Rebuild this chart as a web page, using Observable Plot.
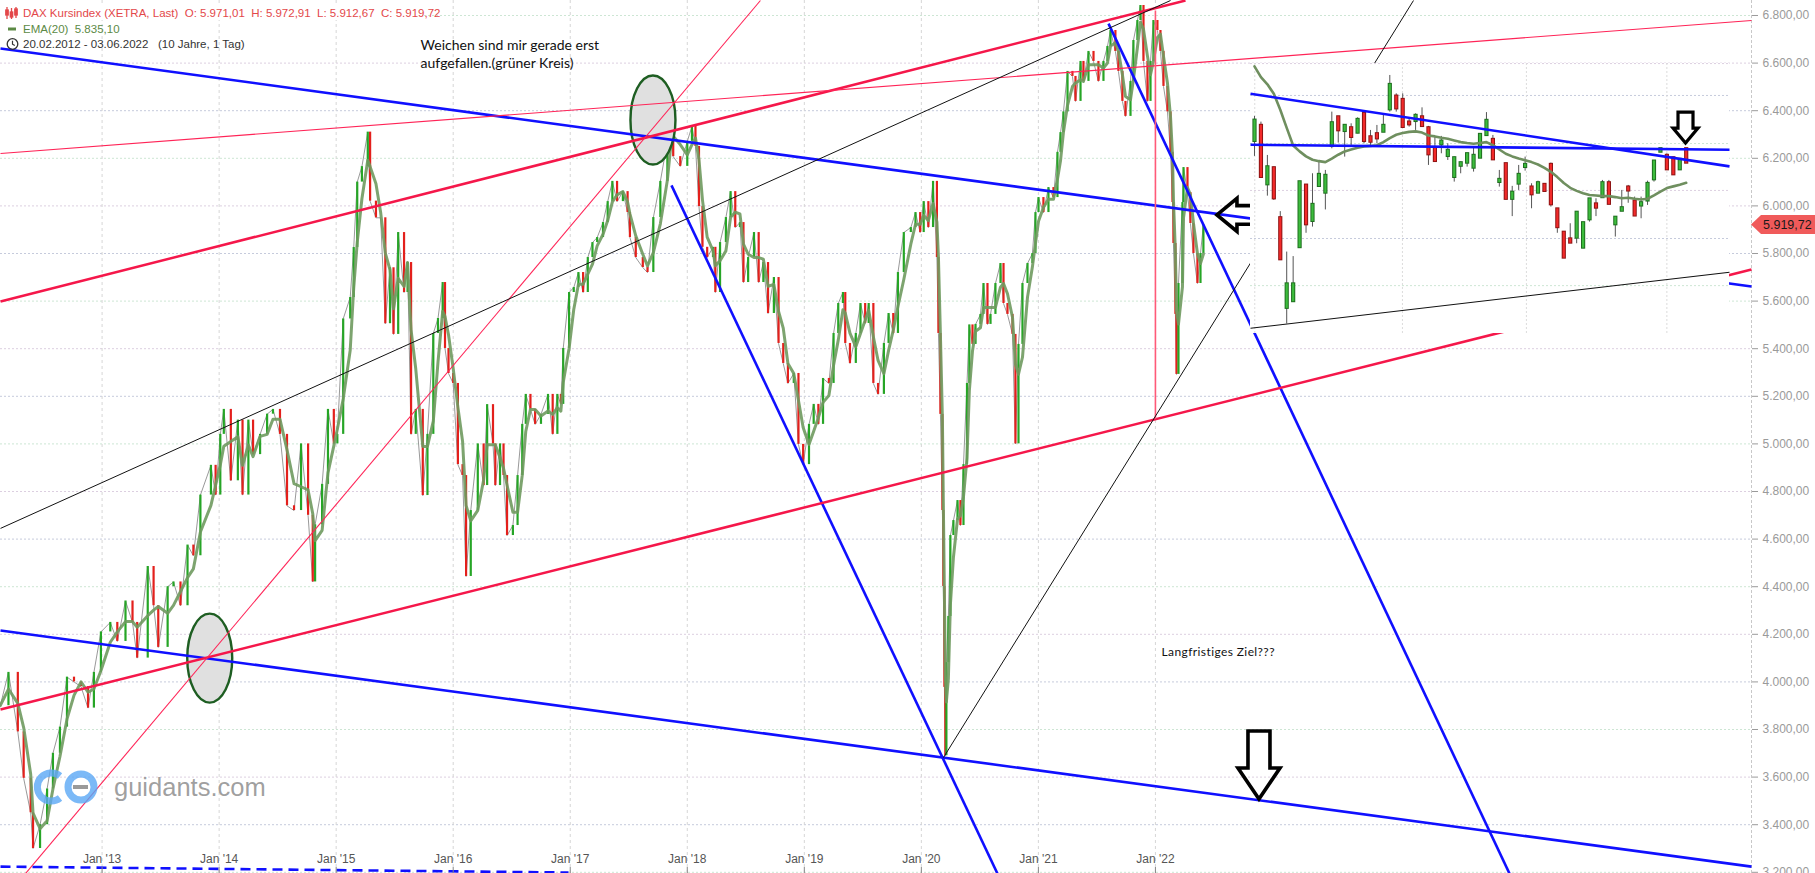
<!DOCTYPE html>
<html><head><meta charset="utf-8">
<script src="https://cdn.jsdelivr.net/npm/d3@7"></script>
<script src="https://cdn.jsdelivr.net/npm/@observablehq/plot@0.6"></script>
<style>
html,body{margin:0;padding:0;background:#fff;}
#wrap{position:relative;width:1815px;height:873px;overflow:hidden;font-family:"Liberation Sans",Arial,sans-serif;}
#wrap>svg{position:absolute;left:0;top:0;}
#inset{position:absolute;left:1250px;top:63px;width:479px;height:270px;background:#fff;}
#inset svg{display:block;}
.lg{position:absolute;left:0;height:14px;line-height:14px;font-size:11.5px;white-space:pre;}
.lg span{position:absolute;left:23px;top:0;}
#wm{position:absolute;left:0;top:740px;}
</style></head><body><div id="wrap"></div>
<script>
// ---------- DATA ----------
const yTicks = [3200,3400,3600,3800,4000,4200,4400,4600,4800,5000,5200,5400,5600,5800,6000,6200,6400,6600,6800];
const xTicks = [2013,2014,2015,2016,2017,2018,2019,2020,2021,2022];
const lastClose = 5919.72;

// main series (decimal year, close)
const mainT = [2012.13,2012.20,2012.28,2012.33,2012.39,2012.41,2012.47,2012.53,2012.58,2012.64,2012.70,2012.76,2012.82,2012.88,2012.93,2012.99,
2013.07,2013.13,2013.20,2013.26,2013.30,2013.39,2013.44,2013.48,2013.56,2013.61,2013.67,2013.73,2013.78,2013.84,2013.93,2013.97,
2014.01,2014.04,2014.10,2014.16,2014.20,2014.25,2014.29,2014.35,2014.41,2014.46,2014.52,2014.58,2014.64,2014.70,2014.76,2014.80,2014.82,2014.88,2014.93,2014.98,
2015.01,2015.06,2015.12,2015.15,2015.18,2015.22,2015.27,2015.29,2015.34,2015.38,2015.42,2015.46,2015.49,2015.53,2015.58,2015.61,2015.64,2015.68,2015.74,2015.78,2015.83,2015.87,2015.91,2015.93,2015.96,
2016.00,2016.04,2016.08,2016.11,2016.15,2016.21,2016.26,2016.29,2016.34,2016.36,2016.40,2016.43,2016.46,2016.51,2016.55,2016.59,2016.62,2016.66,2016.70,2016.75,2016.81,2016.85,2016.89,2016.92,2016.94,2016.99,
2017.03,2017.07,2017.11,2017.15,2017.19,2017.23,2017.28,2017.32,2017.36,2017.40,2017.45,2017.49,2017.51,2017.56,2017.62,2017.66,2017.71,2017.77,2017.83,2017.86,2017.88,2017.94,
2018.00,2018.04,2018.07,2018.10,2018.13,2018.17,2018.22,2018.24,2018.28,2018.33,2018.37,2018.41,2018.45,2018.48,2018.52,2018.57,2018.61,2018.65,2018.69,2018.74,2018.78,2018.82,2018.86,2018.91,2018.95,2018.99,
2019.04,2019.08,2019.12,2019.16,2019.21,2019.25,2019.29,2019.33,2019.35,2019.39,2019.44,2019.48,2019.52,2019.55,2019.59,2019.63,2019.68,2019.72,2019.76,2019.80,2019.85,2019.91,2019.95,2019.99,
2020.02,2020.06,2020.10,2020.133,2020.146,2020.163,2020.180,2020.188,2020.197,2020.205,2020.214,2020.231,2020.248,2020.274,2020.309,2020.334,2020.360,2020.39,2020.41,2020.437,2020.463,2020.505,2020.531,2020.565,2020.591,2020.633,2020.676,2020.702,2020.736,2020.779,2020.804,2020.830,2020.864,2020.907,2020.949,2020.975,
2021.001,2021.043,2021.086,2021.129,2021.163,2021.189,2021.214,2021.249,2021.291,2021.317,2021.360,2021.385,2021.428,2021.471,2021.513,2021.556,2021.590,2021.616,2021.658,2021.684,2021.718,2021.744,2021.787,2021.812,2021.846,2021.872,2021.898,2021.932,2021.958,2021.983,
2022.017,2022.043,2022.069,2022.103,2022.129,2022.146,2022.154,2022.171,2022.180,2022.197,2022.231,2022.240,2022.274,2022.299,2022.325,2022.359,2022.385,2022.410];
const mainClose = [3900,4040,3790,3595,3450,3300,3400,3550,3700,3810,4020,4000,3980,3890,4040,4210,
4250,4170,4340,4250,4100,4485,4320,4145,4400,4420,4320,4575,4530,4785,4910,4785,
5040,5145,4845,5100,4785,5100,4955,5040,5125,5145,5040,4740,4720,5000,4700,4420,4660,4830,5145,5000,
5040,5525,5615,5825,6100,6165,6310,6020,5950,5950,5505,5740,5460,5888,5636,5762,5040,5145,4783,5040,5464,5527,5678,5401,5296,
5254,4913,4867,4443,4720,5000,4825,5165,5000,4825,5000,4867,4615,4657,4867,5082,5208,5145,5082,5124,5208,5040,5208,5166,5401,5636,
5657,5720,5636,5783,5846,5867,5930,6018,6103,6018,6060,5972,5867,5783,5741,5720,5951,6103,6271,6400,6207,6166,
6271,6334,6250,5997,5826,5783,5826,5636,5846,5951,6060,5909,5930,5678,5783,5888,5678,5762,5548,5699,5422,5338,5254,5296,4998,4913,
5082,5166,5082,5275,5254,5464,5590,5636,5422,5338,5464,5590,5506,5590,5254,5208,5422,5548,5464,5720,5888,5909,5972,5888,
6018,5909,6103,5783,5464,5124,4720,4401,3977,3690,4081,4275,4615,4678,4762,4657,4913,5254,5500,5418,5502,5544,5674,5502,5544,5674,5758,5590,5544,5460,5000,5418,5674,5758,5800,5972,
6035,5972,6077,6035,6225,6308,6395,6565,6544,6439,6607,6523,6649,6607,6523,6607,6670,6737,6649,6565,6439,6376,6523,6695,6779,6842,6607,6439,6607,6779,
6737,6649,6502,6395,6225,6014,5842,5544,5292,5674,6014,6161,6056,5926,5800,5674,5800,5920];

// drawn trend lines (start/end in data units)
const trendLines = [
 {t1:2012.132,v1:6661,t2:2027.093,v2:5661,kind:"blue"},
 {t1:2012.132,v1:4216,t2:2027.093,v2:3224,kind:"blue"},
 {t1:2017.865,v1:6086,t2:2020.650,v2:3195,kind:"blue"},
 {t1:2021.599,v1:6766,t2:2025.025,v2:3195,kind:"blue"},
 {t1:2012.132,v1:5598,t2:2022.257,v2:6863,kind:"red"},
 {t1:2012.132,v1:3884,t2:2027.093,v2:5733,kind:"red"},
 {t1:2012.132,v1:6220,t2:2027.093,v2:6779,kind:"redThin"},
 {t1:2012.346,v1:3195,t2:2018.625,v2:6863,kind:"redThin"},
 {t1:2022.000,v1:6821,t2:2022.000,v2:5105,kind:"redV"},
 {t1:2012.132,v1:4645,t2:2022.129,v2:6863,kind:"black"},
 {t1:2020.189,v1:3682,t2:2024.205,v2:6863,kind:"black"}
];
const dashedLines = [{t1:2012.132,v1:3224,t2:2016.985,v2:3199}];
const circles = [{t:2013.924,v:4098},{t:2017.711,v:6359}];
const arrows = [{t:2022.530,v:5960,dir:"left"},{t:2022.889,v:3506,dir:"down"}];
const notes = [
 {t:2015.721,v:6672,text:"Weichen sind mir gerade erst"},
 {t:2015.721,v:6600,text:"aufgefallen.(grüner Kreis)"}
];
const goalNote = [{t:2022.052,v:4124,text:"Langfristiges Ziel???"}];

// inset: recent daily candles
const insetOpen  = [6275,6334,6093,6156,5946,5574,5602,5829,6083,5939,6086,6058,6254,6370,6317,6324,6310,6384,6286,6299,6314,6408,6457,6443,6348,6359,6370,6324,6240,6261,6212,6124,6171,6184,6163,6205,6300,6275,6103,6173,6032,6096,6166,6075,6058,6086,6170,5983,5885,5857,5869,5827,5946,6004,6039,6093,5925,5982,6075,6016,6004,6025,6114,6230,6208,6198,6156,6236];
const insetHigh  = [6376,6352,6212,6163,5976,5806,5787,6100,6086,6135,6191,6149,6394,6373,6338,6345,6370,6387,6317,6338,6380,6548,6471,6471,6366,6387,6412,6334,6289,6292,6261,6205,6184,6219,6247,6296,6392,6296,6149,6177,6082,6170,6205,6093,6104,6093,6180,5988,5890,5925,5974,5927,6030,6030,6107,6107,5953,6065,6086,6037,6037,6104,6188,6238,6219,6205,6198,6238];
const insetLow   = [6208,6121,6041,6023,5778,5504,5602,5827,5885,5911,6086,5983,6240,6264,6205,6247,6303,6261,6247,6261,6314,6394,6394,6331,6331,6317,6334,6170,6188,6219,6191,6100,6135,6163,6142,6205,6296,6198,6079,6030,5955,6065,6146,5988,6051,6062,5995,5885,5785,5843,5841,5820,5932,5955,6037,6009,5869,5981,6011,5960,5946,6002,6100,6226,6152,6132,6152,6180];
const insetClose = [6356,6124,6160,6034,5778,5668,5668,6097,5925,6002,6128,6124,6345,6320,6334,6292,6359,6275,6272,6286,6334,6506,6412,6334,6345,6376,6338,6219,6191,6268,6229,6198,6177,6215,6208,6296,6355,6198,6107,6032,6053,6128,6170,6051,6093,6065,6009,5913,5785,5848,5969,5925,6025,5995,6093,6011,5948,5988,6067,5962,6009,6090,6184,6236,6156,6135,6191,6184];
const insetEma   = [6586,6541,6511,6471,6404,6328,6254,6229,6208,6194,6188,6184,6199,6215,6229,6237,6244,6250,6252,6255,6268,6285,6299,6306,6311,6313,6308,6296,6292,6286,6282,6275,6268,6264,6261,6264,6268,6255,6237,6219,6208,6199,6192,6184,6174,6160,6143,6121,6096,6076,6063,6053,6046,6044,6041,6041,6037,6032,6034,6030,6027,6030,6044,6060,6075,6082,6089,6097];
const insetLines = [
 {i1:0.38,v1:6257,i2:74.72,v2:6236,kind:"blue"},
 {i1:0.38,v1:6471,i2:74.72,v2:6166,kind:"blue"},
 {i1:0.38,v1:5486,i2:74.72,v2:5721,kind:"black"}
];
const insetArrow = [{i:67.97,v:6262,dir:"downSmall"}];
const insetGridX = [1.04,23.96,43.2,65.0];
const insetGridY = [5665,5863,6065,6262,6464,6598];

// ---------- HELPERS ----------
const xMin = 2012.132, xMax = 2027.093, yMin = 3195, yMax = 6863;
const W = 1815, H = 873, MR = 64;
const fmtDE = v => { const s = v.toFixed(2).split("."); return s[0].replace(/\B(?=(\d{3})+(?!\d))/g, ".") + "," + s[1]; };
const fmtX = d => "Jan '" + String(d).slice(2);
const GREEN = "#26a526", RED = "#e3201c";
const styleOf = {
  blue:{stroke:"#1010ff",w:2.6}, red:{stroke:"#f5174a",w:2.5}, redThin:{stroke:"#ff2457",w:1.1},
  redV:{stroke:"#ff5a78",w:1.6}, black:{stroke:"#111",w:1}
};
const arrowPaths = {
  left:"M0,0L20,-16.5L20,-9.3L43,-9.3L43,9.3L20,9.3L20,16.5Z",
  down:"M0,0L-21,-31L-11,-31L-11,-68L11,-68L11,-31L21,-31Z",
  downSmall:"M0,0L-12.5,-15L-7.5,-15L-7.5,-31L7.5,-31L7.5,-15L12.5,-15Z"
};
function arrowMark(data, xKey){
  return (index, scales) => {
    const g = d3.create("svg:g");
    for (const a of data) {
      g.append("path").attr("d", arrowPaths[a.dir])
        .attr("transform", `translate(${scales.x(a[xKey])},${scales.y(a.v)})`)
        .attr("fill","none").attr("stroke","#000")
        .attr("stroke-width", a.dir==="downSmall"?3.2:3.6).attr("stroke-linejoin","miter");
    }
    return g.node();
  };
}

const mainData = mainT.map((t,i)=>({t, close:mainClose[i], prev: i ? mainClose[i-1] : mainClose[i]}));
const gridColors = ["#cde6d4","#c6cbdc","#dccfe0"];

const main = Plot.plot({
  width: W, height: H, marginLeft: 0, marginRight: MR, marginTop: 0, marginBottom: 0,
  style: {background:"transparent", fontFamily:"Liberation Sans, Arial, sans-serif", overflow:"visible"},
  x: {domain:[xMin,xMax], axis:null},
  y: {domain:[yMin,yMax], axis:null},
  color: {type:"identity"},
  marks: [
    Plot.ruleY(yTicks, {y:d=>d, stroke:(d,i)=>gridColors[i%3], strokeDasharray:"2,2"}),
    Plot.ruleX(xTicks, {x:d=>d, stroke:"#d6d6d6", strokeDasharray:"3,3"}),
    Plot.ruleX([xMax], {x:d=>d, stroke:"#c8c8c8", strokeDasharray:"3,2"}),
    Plot.line(mainData, {x:"t", y:"close", stroke:"#8d8d8d", strokeWidth:0.9}),
    Plot.ruleX(mainData, {x:"t", y1:"prev", y2:"close", stroke:d=>d.close>=d.prev?GREEN:RED, strokeWidth:2.2}),
    Plot.lineY(mainData, Plot.windowY({k:3, anchor:"end"}, {x:"t", y:"close", stroke:"#6f9a5f", strokeWidth:3, strokeOpacity:0.9})),
    (index, scales) => {
      const g = d3.create("svg:g");
      for (const c of circles) g.append("ellipse").attr("cx",scales.x(c.t)).attr("cy",scales.y(c.v))
        .attr("rx",22.5).attr("ry",44.5).attr("fill","#e0e0e0").attr("stroke","#1e5e22").attr("stroke-width",2.4);
      return g.node();
    },
    Plot.link(dashedLines, {x1:"t1",y1:"v1",x2:"t2",y2:"v2", stroke:"#1010ff", strokeWidth:2.6, strokeDasharray:"10,6"}),
    Plot.link(trendLines, {x1:"t1",y1:"v1",x2:"t2",y2:"v2", stroke:d=>styleOf[d.kind].stroke, strokeWidth:d=>styleOf[d.kind].w}),
    arrowMark(arrows, "t"),
    Plot.text(notes, {x:"t", y:"v", text:"text", textAnchor:"start", fontSize:14, fill:"#111", fontFamily:"Lato, sans-serif"}),
    Plot.text(goalNote, {x:"t", y:"v", text:"text", textAnchor:"start", fontSize:12, fill:"#111", fontFamily:"Lato, sans-serif"}),
    Plot.axisY({anchor:"right", ticks:yTicks, tickFormat:fmtDE, tickSize:6, tickPadding:5, fontSize:12, color:"#9a9a9a", label:null}),
    Plot.text(xTicks, {x:d=>d, text:fmtX, frameAnchor:"bottom", dy:-11, fontSize:12, fill:"#555"}),
    Plot.ruleX(xTicks, {x:d=>d, insetTop:867, stroke:"#888"}),
    (index, scales, values, dims) => {
      const y = scales.y(lastClose), x0 = dims.width - dims.marginRight;
      const g = d3.create("svg:g");
      g.append("path").attr("d",`M${x0},${y}L${x0+10},${y-9.5}L${dims.width},${y-9.5}L${dims.width},${y+9.5}L${x0+10},${y+9.5}Z`).attr("fill","#f05a5a");
      g.append("text").attr("x",x0+12).attr("y",y).attr("dy","0.36em").attr("text-anchor","start")
        .attr("font-size",12.5).attr("fill","#1a1a1a").text(fmtDE(lastClose));
      return g.node();
    }
  ]
});
const wrap = document.getElementById("wrap");
wrap.appendChild(main);
d3.select(main).selectAll("text").filter(function(){return this.textContent==="Langfristiges Ziel???";}).style("letter-spacing","0.4px");

// ---------- INSET ----------
const insetRows = insetOpen.map((o,k)=>({i:k+1, open:o, high:insetHigh[k], low:insetLow[k], close:insetClose[k], ema:insetEma[k]}));
const pxToV = px => yMax - px/H*(yMax-yMin);
const inset = Plot.plot({
  width:479, height:270, margin:0,
  style:{background:"#fff", overflow:"visible"},
  x:{domain:[0.38,74.72], axis:null},
  y:{domain:[pxToV(333), pxToV(63)], axis:null},
  color:{type:"identity"},
  marks:[
    Plot.ruleY(insetGridY, {y:d=>d, stroke:(d,i)=>gridColors[i%3], strokeDasharray:"2,2"}),
    Plot.ruleX(insetGridX, {x:d=>d, stroke:"#dcdcdc", strokeDasharray:"2,2"}),
    Plot.ruleX(insetRows, {x:"i", y1:"low", y2:"high", stroke:"#555", strokeWidth:1}),
    Plot.ruleX(insetRows, {x:"i", y1:"open", y2:"close", stroke:d=>d.close>=d.open?"#1f6e1f":"#8e1414", strokeWidth:4.2, strokeLinecap:"square"}),
    Plot.ruleX(insetRows, {x:"i", y1:"open", y2:"close", stroke:d=>d.close>=d.open?"#3cbc3c":"#f22a2a", strokeWidth:2.2, strokeLinecap:"square"}),
    Plot.line(insetRows, {x:"i", y:"ema", stroke:"#6f8f5f", strokeWidth:2.6}),
    Plot.link(insetLines, {x1:"i1",y1:"v1",x2:"i2",y2:"v2", stroke:d=>styleOf[d.kind].stroke, strokeWidth:d=>d.kind==="blue"?2.6:1.1}),
    arrowMark(insetArrow, "i")
  ]
});
const insetDiv = document.createElement("div"); insetDiv.id = "inset"; insetDiv.appendChild(inset); wrap.appendChild(insetDiv);

// ---------- LEGEND ----------
const lg = document.createElement("div");
lg.innerHTML = `
<div class="lg" style="top:6px;width:422px;background:#fff;color:#e3484a">
 <svg width="14" height="14" style="position:absolute;left:5px;top:0"><g stroke="#e3484a" stroke-width="1.3" fill="none">
 <line x1="2" y1="1" x2="2" y2="13"/><rect x="0.8" y="4" width="2.4" height="5" fill="#e3484a"/>
 <line x1="6.5" y1="2" x2="6.5" y2="13"/><rect x="5.3" y="6" width="2.4" height="5" fill="#e3484a"/>
 <line x1="11" y1="1" x2="11" y2="12"/><rect x="9.8" y="3" width="2.4" height="6" fill="#e3484a"/></g></svg>
 <span>DAX Kursindex (XETRA, Last)  O: 5.971,01  H: 5.972,91  L: 5.912,67  C: 5.919,72</span></div>
<div class="lg" style="top:22px;color:#5c8a45">
 <svg width="14" height="14" style="position:absolute;left:8px;top:0"><rect x="0" y="5.5" width="8" height="3" fill="#5c8a45"/></svg>
 <span>EMA(20)  5.835,10</span></div>
<div class="lg" style="top:37px;color:#333">
 <svg width="14" height="14" style="position:absolute;left:6px;top:0"><circle cx="6.5" cy="7" r="5.3" fill="none" stroke="#333" stroke-width="1.3"/><path d="M6.5,3.8V7.2L8.8,8.6" fill="none" stroke="#333" stroke-width="1.2"/></svg>
 <span>20.02.2012 - 03.06.2022   (10 Jahre, 1 Tag)</span></div>`;
wrap.appendChild(lg);

// ---------- WATERMARK ----------
const wm = document.createElement("div"); wm.id = "wm";
wm.innerHTML = `<svg width="300" height="80">
 <path d="M60,36 A14,14 0 1 0 60,58" fill="none" stroke="#5aa8f5" stroke-opacity="0.8" stroke-width="7"/>
 <circle cx="81" cy="47" r="13" fill="none" stroke="#5aa8f5" stroke-opacity="0.8" stroke-width="7"/>
 <line x1="73" y1="47" x2="88" y2="47" stroke="#9a9a9a" stroke-width="4"/>
 <text x="114" y="56" font-family="Liberation Sans, Arial, sans-serif" font-size="25.5" fill="#9a9a9a" fill-opacity="0.95">guidants.com</text>
</svg>`;
wrap.appendChild(wm);
</script></body></html>
